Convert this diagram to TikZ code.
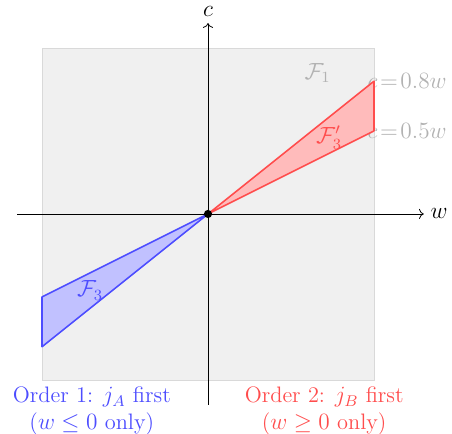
\documentclass[tikz,border=0pt]{standalone}
\usepackage{amsmath,amssymb}
\usetikzlibrary{arrows.meta,calc,positioning}
\definecolor{ordAcol}{RGB}{77,77,255}
\definecolor{ordBcol}{RGB}{255,77,77}

\begin{document}
\begin{tikzpicture}[scale=3,
  every node/.style={font=\fontsize{11.5}{14}\selectfont},
  region/.style={thick, line join=round},
  bound/.style={text=gray!60}]
\useasboundingbox (-1.253,-1.325) rectangle (1.470,1.289);

% regione ammissibile F_1
\fill[gray!12, draw=gray!30] (-1,-1) rectangle (1,1);
\node[bound] (f1) at (0.66,0.85) {$\mathcal{F}_1$};

% rette limite
\node[bound] (l08) at (1.2,0.8) {$c\!=\!0.8w$};
\node[bound] (l05) at (1.2,0.5) {$c\!=\!0.5w$};

\coordinate (O) at (0,0);
\coordinate (b1) at (1,0.8);
\coordinate (b2) at (1,0.5);
\coordinate (a1) at (-1,-0.5);
\coordinate (a2) at (-1,-0.8);

% F_3' (w >= 0) e F_3 (w <= 0)
\filldraw[region, draw=ordBcol, fill=ordBcol!38] (O) -- (b1) -- (b2) -- cycle;
\filldraw[region, draw=ordAcol, fill=ordAcol!35] (O) -- (a1) -- (a2) -- cycle;
\node[text=ordBcol] (f3p) at (0.73,0.46) {$\mathcal{F}_3'$};
\node[text=ordAcol] (f3) at (-0.71,-0.46) {$\mathcal{F}_3$};

% assi
\coordinate (xl) at (-1.15,0);
\coordinate (xr) at (1.3,0);
\coordinate (yb) at (0,-1.15);
\coordinate (yt) at (0,1.15);
\draw[->] (xl) -- (xr) node[right] (wl) {$w$};
\draw[->] (yb) -- (yt) node[above] (cl) {$c$};
\fill (O) circle (0.7pt);

% ordini
\node[below, align=center, text=ordAcol] (ord1) at (-0.7,-1) {Order 1: $j_A$ first\\($w\le 0$ only)};
\node[below, align=center, text=ordBcol] (ord2) at (0.7,-1) {Order 2: $j_B$ first\\($w\ge 0$ only)};

\end{tikzpicture}
\end{document}
